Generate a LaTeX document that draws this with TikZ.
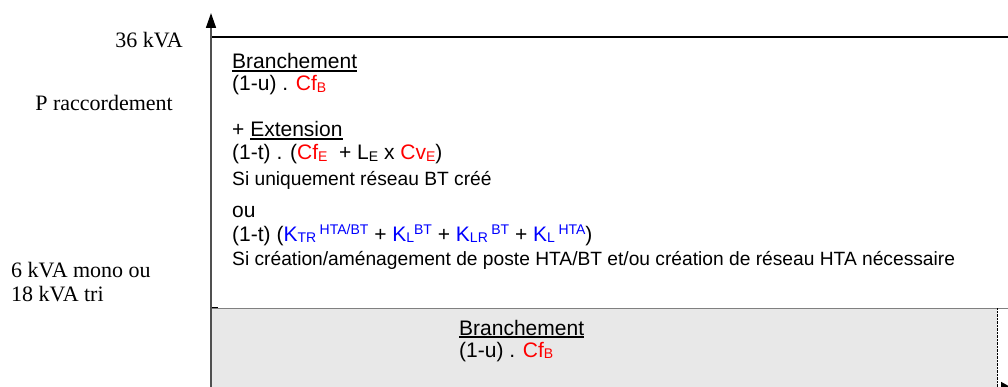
\documentclass[tikz,border=0pt]{standalone}
\usepackage{fontspec}
\setmainfont{Liberation Serif}
\newfontfamily\arialfont{Liberation Sans}
\usetikzlibrary{arrows.meta}
\definecolor{cfred}{RGB}{255,0,0}
\definecolor{kblue}{RGB}{0,0,255}
\definecolor{axisgray}{RGB}{80,80,80}
\definecolor{zonegray}{RGB}{232,232,232}
\newcommand\ulbar[1]{\setbox0\hbox{#1}\rlap{\rule[-2.6pt]{\wd0}{1.5pt}}\box0}
\newcommand\cf[1]{\textcolor{cfred}{#1}}
\newcommand\kb[1]{\textcolor{kblue}{#1}}
\newcommand\bas[1]{\raisebox{-1.5pt}{\fontsize{14}{14}\selectfont#1}}
\newcommand\haut[1]{\raisebox{6.5pt}{\fontsize{14}{14}\selectfont#1}}
\begin{document}
\begin{tikzpicture}[x=1pt,y=-1pt,
  formule/.style={anchor=base west,inner sep=0pt,font=\arialfont\fontsize{21}{24}\selectfont},
  remarque/.style={formule,font=\arialfont\fontsize{19.2}{22}\selectfont},
  seuil/.style={inner sep=0pt,font=\fontsize{22}{26}\selectfont},
  axe/.style={axisgray,line width=1.5pt,-{Triangle[width=10pt,length=15pt,color=black]}}]

\useasboundingbox (0,0) rectangle (1008,387);
\clip (0,0) rectangle (1008,387);

\fill[zonegray] (211,308) rectangle (997,387);
\draw[gray] (211,308) -- (1008,308);
\draw[densely dotted] (997,308) -- (997,387);
\draw[line width=1.2pt] (211,37) -- (1008,37);
\draw[line width=1pt] (211,307) -- (218,307);
\draw[axe] (211,389) -- (211,13);
\draw[axe,-{Triangle[width=14pt,length=13pt,color=black]}] (211,389) -- (1014,389);

\node[seuil,anchor=base east] (s36) at (183,48) {36 kVA};
\node[seuil,anchor=base east] (praccord) at (173,111) {P raccordement};
\node[seuil,anchor=base west] (s6) at (11,277) {6 kVA mono ou};
\node[seuil,anchor=base west] (s18) at (11,301) {18 kVA tri};

\node[formule] (branch) at (232,69) {\ulbar{Branchement}};
\node[formule] (branchcout) at (232,91) {(1-u) . \cf{Cf\bas{B}}};
\node[formule] (ext) at (232,137) {+ \ulbar{Extension}};
\node[formule] (extcout) at (232,160) {(1-t) . (\cf{Cf\bas{E}}\ \ + L\bas{E} x \cf{Cv\bas{E}})};
\node[remarque] (extcas) at (232,186) {Si uniquement réseau BT créé};
\node[formule] (ou) at (232,218) {ou};
\node[formule] (poste) at (232,241) {(1-t) (\kb{K\bas{TR}\,\haut{HTA/BT}} + \kb{K\bas{L}\haut{BT}} + \kb{K\bas{LR}\,\haut{BT}} + \kb{K\bas{L}\,\haut{HTA}})};
\node[remarque] (postecas) at (232,265) {Si création/aménagement de poste HTA/BT et/ou création de réseau HTA nécessaire};

\node[formule] (branchbas) at (459,335) {\ulbar{Branchement}};
\node[formule] (branchbascout) at (459,357) {(1-u) . \cf{Cf\bas{B}}};

\end{tikzpicture}
\end{document}
